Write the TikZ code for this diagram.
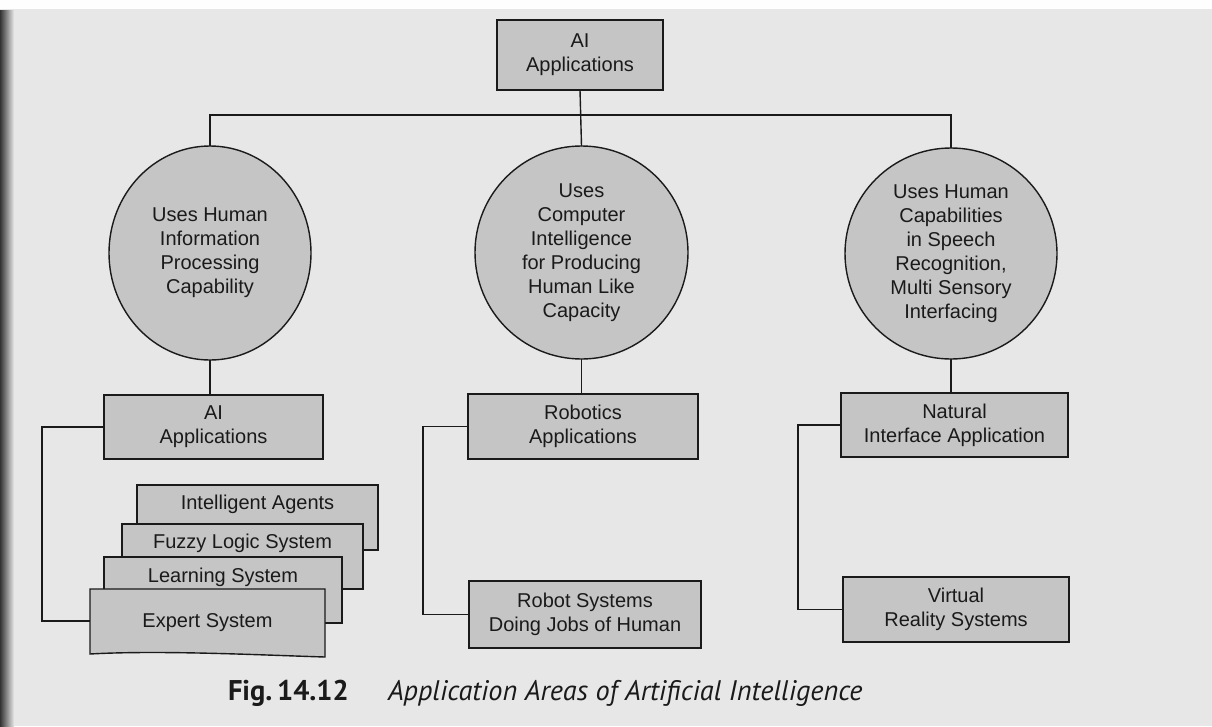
\documentclass[tikz,border=0pt]{standalone}
\usepackage{fontspec}
\setmainfont{Liberation Sans}
\newfontfamily\capfont{PT Sans}
\usetikzlibrary{shapes.geometric}
\definecolor{paper}{HTML}{E7E7E7}
\definecolor{shade}{HTML}{C5C5C5}
\definecolor{ink}{HTML}{1A1A1A}
\begin{document}
\begin{tikzpicture}[x=1pt,y=-1pt,
  every node/.style={inner sep=0pt, outer sep=0pt},
  boxtext/.style={font=\fontsize{20}{24}\selectfont, text=ink, align=center},
  greybox/.style={draw=ink, line width=1.4pt, fill=shade, rectangle, boxtext},
  bubble/.style={draw=ink, line width=1.4pt, fill=shade, ellipse, boxtext},
  pagebox/.style={draw=ink, line width=1.4pt, fill=shade, rectangle},
  link/.style={draw=ink, line width=1.4pt}]
% page
\useasboundingbox (0,0) rectangle (1212,726);
\fill[paper] (0,0) rectangle (1212,726);
\fill[white!96!paper] (0,0) rectangle (1212,9);
\shade[left color=black!80, right color=paper] (0,10) rectangle (14,726);

% root
\node[greybox, minimum width=166pt, minimum height=70pt] (root) at (580,55) {AI\\Applications};

% three approaches
\node[bubble, minimum width=202pt, minimum height=214pt] (left)  at (210,253)   {Uses Human\\Information\\Processing\\Capability};
\node[bubble, minimum width=213pt, minimum height=213pt] (mid)   at (581.5,252.5) {Uses\\Computer\\Intelligence\\for Producing\\Human Like\\Capacity};
\node[bubble, minimum width=212pt, minimum height=211pt] (right) at (951,253.5) {Uses Human\\Capabilities\\in Speech\\Recognition,\\Multi Sensory\\Interfacing};

% application boxes
\node[greybox, minimum width=219pt, minimum height=64pt] (aiapp)    at (213.5,427)  {AI\\Applications};
\node[greybox, minimum width=230pt, minimum height=65pt] (robotics) at (583,426.5)  {Robotics\\Applications};
\node[greybox, minimum width=227pt, minimum height=64pt] (natural)  at (954.5,425)  {Natural\\Interface Application};
\node[greybox, minimum width=232pt, minimum height=67pt] (robotsys) at (585,614.5)  {Robot Systems\\Doing Jobs of Human};
\node[greybox, minimum width=226pt, minimum height=65pt] (virtual)  at (956,609.5)  {Virtual\\Reality Systems};

% stacked AI application pages, back to front
\node[pagebox, minimum width=241pt, minimum height=65pt] (agents)   at (257.5,517.5) {};
\node[boxtext] at ([yshift=-19pt]agents.north) {Intelligent Agents};
\node[pagebox, minimum width=241pt, minimum height=65pt] (fuzzy)    at (242.5,556.5) {};
\node[boxtext] at ([yshift=-19pt]fuzzy.north) {Fuzzy Logic System};
\node[pagebox, minimum width=238pt, minimum height=66pt] (learning) at (223,590)     {};
\node[boxtext] at ([yshift=-20pt]learning.north) {Learning System};
\node[minimum width=235pt, minimum height=64pt] (expert) at (207.5,621) {};
\filldraw[fill=shade, draw=ink, line width=1.4pt]
  (expert.north west) -- (expert.north east) -- ([yshift=-4pt]expert.south east)
  .. controls (260,655) and (160,650) .. ([yshift=-1pt]expert.south west) -- cycle;
\node[boxtext] at ([yshift=-2pt]expert.center) {Expert System};

% tree connectors
\coordinate (bus) at (0,115);
\draw[link] (root.south) -- (mid.north);
\draw[link] (left.north) |- (right.north |- bus) -- (right.north);
\draw[link] (left.south) -- (left.south |- aiapp.north);
\draw[link] (mid.south) -- (mid.south |- robotics.north);
\draw[link] (right.south) -- (right.south |- natural.north);

% side brackets
\coordinate (lb) at (42,0);
\coordinate (cb) at (423,0);
\coordinate (rb) at (798,0);
\draw[link] (aiapp.west) -- (aiapp.west -| lb) |- (expert.west);
\draw[link] (robotics.west) -- (robotics.west -| cb) |- (robotsys.west);
\draw[link] (natural.west) -- (natural.west -| rb) |- (virtual.west);

% caption
\node[anchor=west, font=\capfont\bfseries\fontsize{28.5}{30}\selectfont, text=ink] (fig) at (228,693) {Fig.\,14.12};
\node[anchor=west, font=\capfont\itshape\fontsize{28.3}{30}\selectfont, text=ink] (cap) at (388,693) {Application Areas of Artificial Intelligence};
\end{tikzpicture}
\end{document}
